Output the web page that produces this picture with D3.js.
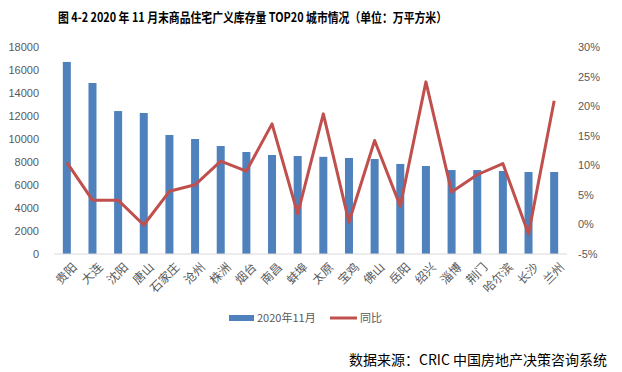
<!DOCTYPE html>
<html>
<head>
<meta charset="utf-8">
<script src="https://cdn.jsdelivr.net/npm/d3@7"></script>
<style>
body { margin: 0; background: #fff; }
text { font-family: "Noto Sans CJK SC", "DejaVu Sans", sans-serif; }
</style>
</head>
<body>
<div id="chart"></div>
<script>
// chart data
var cities = ["贵阳", "大连", "沈阳", "唐山", "石家庄", "沧州", "株洲", "烟台", "南昌", "蚌埠",
	"太原", "宝鸡", "佛山", "岳阳", "绍兴", "淄博", "荆门", "哈尔滨", "长沙", "兰州"];
var stock = [16700, 14870, 12430, 12260, 10350, 10000, 9390, 8870, 8610, 8520,
	8450, 8350, 8260, 7830, 7650, 7300, 7300, 7220, 7130, 7130];
var yoy = [10.5, 4.1, 4.1, -0.1, 5.6, 6.7, 10.7, 9.0, 17.0, 1.8,
	18.7, 0.4, 14.2, 3.1, 24.1, 5.5, 8.4, 10.3, -1.6, 20.9];
var leftTicks = [0, 2000, 4000, 6000, 8000, 10000, 12000, 14000, 16000, 18000];
var rightTicks = [-5, 0, 5, 10, 15, 20, 25, 30];

var width = 622, height = 372;
var svg = d3.select("#chart").append("svg")
	.attr("width", width)
	.attr("height", height);

// scales
var x = d3.scaleBand().domain(cities).range([54, 567]);
var y = d3.scaleLinear().domain([0, 18000]).range([254, 47]);
var y2 = d3.scaleLinear().domain([-5, 30]).range([254, 47]);

// title, squeezed to the width of the original
svg.append("text")
	.attr("x", 58)
	.attr("y", 22)
	.attr("textLength", 389)
	.attr("lengthAdjust", "spacingAndGlyphs")
	.style("font-size", "13px")
	.style("font-weight", "bold")
	.style("fill", "#000")
	.text("图 4-2 2020 年 11 月末商品住宅广义库存量 TOP20 城市情况（单位：万平方米）");

// left axis
var yAxis = svg.append("g")
	.attr("transform", "translate(44,0)")
	.call(d3.axisLeft(y).tickValues(leftTicks).tickSize(0).tickPadding(5)
		.tickFormat(d3.format("d")));
yAxis.select(".domain").remove();
yAxis.selectAll("text")
	.style("font-size", "11px")
	.style("fill", "#595959")
	.style("font-family", "Liberation Sans, Arial, sans-serif");

// right axis
var y2Axis = svg.append("g")
	.attr("transform", "translate(573,0)")
	.call(d3.axisRight(y2).tickValues(rightTicks).tickSize(0).tickPadding(5)
		.tickFormat(function (d) { return d + "%"; }));
y2Axis.select(".domain").remove();
y2Axis.selectAll("text")
	.style("font-size", "11px")
	.style("fill", "#595959")
	.style("font-family", "Liberation Sans, Arial, sans-serif");

// bars
svg.selectAll(".bar")
	.data(stock)
	.enter().append("rect")
	.attr("class", "bar")
	.attr("x", function (d, i) { return x(cities[i]) + x.bandwidth() / 2 - 4; })
	.attr("width", 8)
	.attr("y", function (d) { return y(d); })
	.attr("height", function (d) { return y(0) - y(d); })
	.style("fill", "#4F81BD");

// baseline
svg.append("line")
	.attr("x1", 54).attr("x2", 567)
	.attr("y1", y(0)).attr("y2", y(0))
	.style("stroke", "#d9d9d9")
	.style("stroke-width", 1);

// x labels, rotated
svg.selectAll(".xlabel")
	.data(cities)
	.enter().append("text")
	.attr("class", "xlabel")
	.attr("transform", function (d) {
		return "translate(" + (x(d) + x.bandwidth() / 2 + 5) + ",262) rotate(-45)";
	})
	.attr("text-anchor", "end")
	.attr("dy", "0.7em")
	.style("font-size", "12px")
	.style("fill", "#595959")
	.text(function (d) { return d; });

// yoy line
var line = d3.line()
	.x(function (d, i) { return x(cities[i]) + x.bandwidth() / 2; })
	.y(function (d) { return y2(d); });
svg.append("path")
	.datum(yoy)
	.attr("d", line)
	.style("fill", "none")
	.style("stroke", "#C0504D")
	.style("stroke-width", 3)
	.style("stroke-linejoin", "round");

// legend
var legend = svg.append("g");
legend.append("rect")
	.attr("x", 229).attr("y", 315)
	.attr("width", 25).attr("height", 6)
	.style("fill", "#4F81BD");
legend.append("text")
	.attr("x", 257).attr("y", 322)
	.style("font-size", "11px")
	.style("fill", "#595959")
	.text("2020年11月");
legend.append("line")
	.attr("x1", 330).attr("x2", 357)
	.attr("y1", 318).attr("y2", 318)
	.style("stroke", "#C0504D")
	.style("stroke-width", 3);
legend.append("text")
	.attr("x", 360).attr("y", 322)
	.style("font-size", "11px")
	.style("fill", "#595959")
	.text("同比");

// source
svg.append("text")
	.attr("x", 349).attr("y", 365)
	.style("font-size", "14px")
	.style("fill", "#000")
	.text("数据来源：CRIC 中国房地产决策咨询系统");
</script>
</body>
</html>
